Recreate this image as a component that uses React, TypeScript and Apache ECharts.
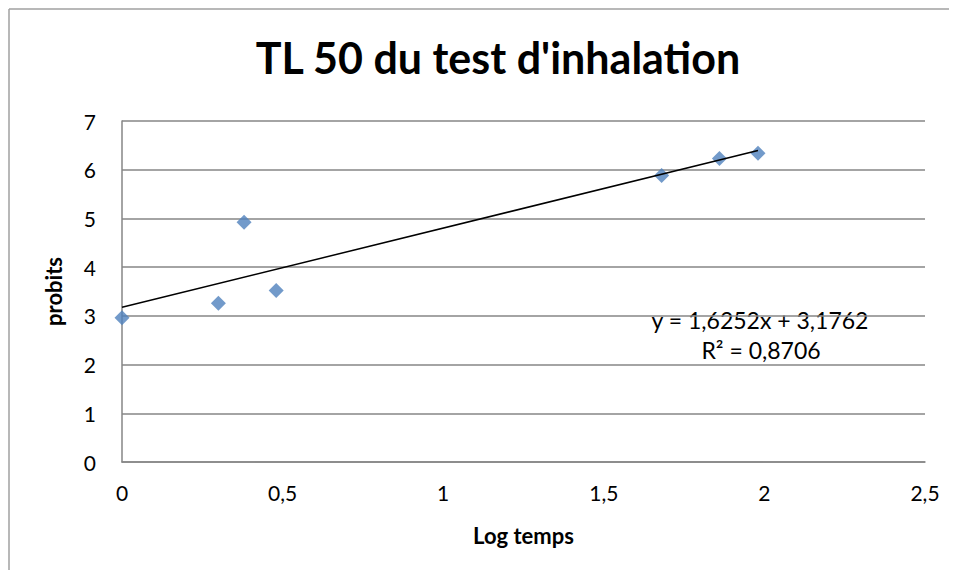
import React, { useEffect, useRef } from "react";
import * as echarts from "echarts";

const logTemps = [0, 0.3, 0.38, 0.48, 1.68, 1.86, 1.98];
const probits = [2.96, 3.26, 4.92, 3.52, 5.88, 6.23, 6.34];
const slope = 1.6252;
const intercept = 3.1762;
const equationText = "y = 1,6252x + 3,1762";
const r2Text = "R² = 0,8706";
const titleText = "TL 50 du test d'inhalation";

const FONT = "Lato, 'Open Sans', sans-serif";
const fmt = (v: number) => String(v).replace(".", ",");

export default function App() {
  const ref = useRef<HTMLDivElement>(null);
  useEffect(() => {
    if (!ref.current) return;
    const chart = echarts.init(ref.current, undefined, { renderer: "svg" });
    const xMax = Math.max(...logTemps);
    const trend = [
      [0, intercept],
      [xMax, intercept + slope * xMax],
    ];
    chart.setOption({
      animation: false,
      backgroundColor: "#ffffff",
      title: {
        text: titleText,
        left: 493,
        top: 31,
        textAlign: "center",
        textStyle: { fontFamily: FONT, fontSize: 43, fontWeight: "bold", color: "#000" },
      },
      grid: { left: 122, top: 121, right: 32, bottom: 116, containLabel: false },
      xAxis: {
        type: "value",
        min: 0,
        max: 2.5,
        interval: 0.5,
        name: "Log temps",
        nameLocation: "middle",
        nameGap: 62,
        nameTextStyle: { fontFamily: FONT, fontSize: 22, fontWeight: "bold", color: "#000" },
        axisLine: { show: true, lineStyle: { color: "#868686", width: 1.5 } },
        axisTick: { show: false },
        splitLine: { show: false },
        axisLabel: {
          fontFamily: FONT,
          fontSize: 21,
          color: "#000",
          margin: 20,
          formatter: (v: number) => fmt(v),
        },
      },
      yAxis: {
        type: "value",
        min: 0,
        max: 7,
        interval: 1,
        name: "probits",
        nameLocation: "middle",
        nameGap: 58,
        nameRotate: 90,
        nameTextStyle: { fontFamily: FONT, fontSize: 22, fontWeight: "bold", color: "#000" },
        axisLine: { show: true, lineStyle: { color: "#868686", width: 1.5 } },
        axisTick: { show: false },
        splitLine: { show: true, lineStyle: { color: "#868686", width: 1.5 } },
        axisLabel: { fontFamily: FONT, fontSize: 21, color: "#000", margin: 26 },
      },
      series: [
        {
          type: "scatter",
          data: logTemps.map((x, i) => [x, probits[i]]),
          symbol: "diamond",
          symbolSize: 15,
          itemStyle: { color: "#4F81BD" },
          z: 3,
        },
        {
          type: "line",
          data: trend,
          symbol: "none",
          lineStyle: { color: "#000", width: 1.5 },
          z: 4,
        },
      ],
      graphic: [
        {
          type: "line",
          shape: { x1: 9, y1: 9, x2: 957, y2: 9 },
          style: { stroke: "#a0a0a0", lineWidth: 1.5 },
          silent: true,
        },
        {
          type: "line",
          shape: { x1: 9, y1: 9, x2: 9, y2: 578 },
          style: { stroke: "#a0a0a0", lineWidth: 1.5 },
          silent: true,
        },
        {
          type: "text",
          x: 760,
          y: 320,
          style: {
            text: equationText,
            fontFamily: FONT,
            fontSize: 23,
            fill: "#000",
            align: "center",
            verticalAlign: "middle",
          },
        },
        {
          type: "text",
          x: 761,
          y: 350,
          style: {
            text: r2Text,
            fontFamily: FONT,
            fontSize: 23,
            fill: "#000",
            align: "center",
            verticalAlign: "middle",
          },
        },
      ],
    });
    return () => chart.dispose();
  }, []);
  return <div ref={ref} style={{ width: 957, height: 578, margin: -8 }} />;
}
